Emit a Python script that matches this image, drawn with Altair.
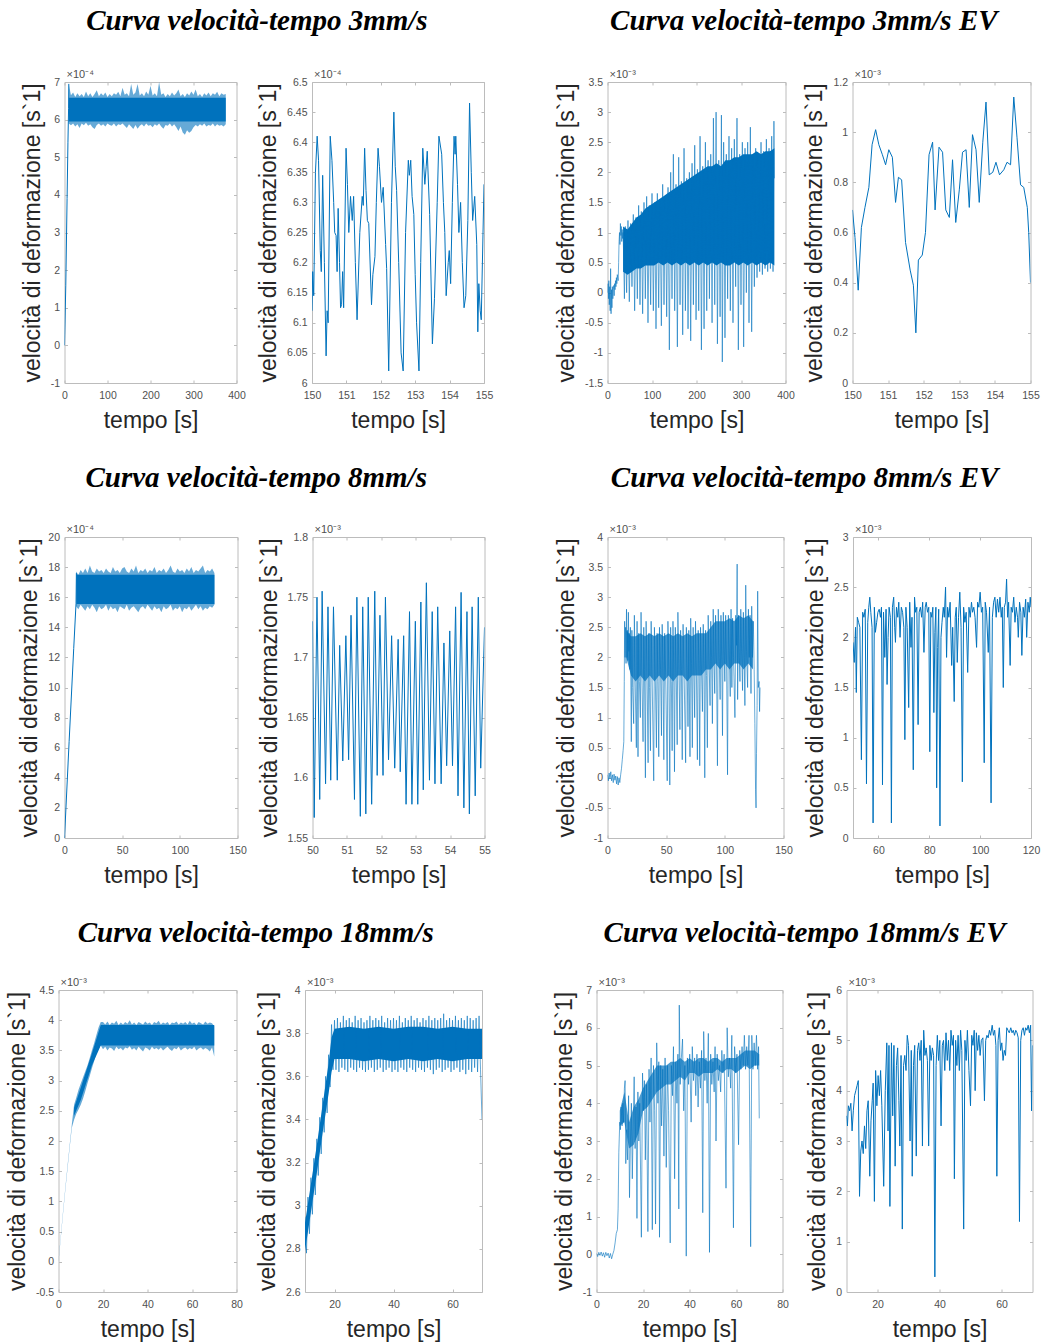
import altair as alt
import pandas as pd

# ---------------------------------------------------------------- styling
BLUE = "#0072BD"
FRAME = "#bcbcbc"
TICK_TEXT = "#505050"
TEXT = "#262626"
SANS = "Liberation Sans"
SERIF = "Liberation Serif"
Y_TITLE = "velocità di deformazione [s`1]"
X_TITLE = "tempo [s]"
EXP4 = "×10⁻⁴"
EXP3 = "×10⁻³"

# ---------------------------------------------------------------- 3 mm/s  (values x1e-4)
P1_RAMP = [(0, 0.0), (3, 1.6), (6, 3.9), (8, 5.4), (9.5, 6.3), (10, 6.95)]
P1_START, P1_STEP = 10, 5
P1_UPPER = [6.95, 6.65, 6.72, 6.6, 6.7, 6.62, 6.68, 6.6, 6.75, 6.62,
            6.7, 6.6, 6.68, 6.78, 6.62, 6.7, 6.64, 6.72, 6.6, 6.68,
            6.62, 6.7, 6.66, 6.74, 6.62, 6.85, 6.66, 6.7, 6.62, 6.95,
            6.66, 6.72, 6.95, 6.64, 6.7, 6.62, 6.75, 6.66, 6.9, 6.64,
            6.7, 6.62, 7.0, 6.66, 6.7, 6.6, 6.68, 6.62, 6.72, 6.64,
            6.7, 6.8, 6.62, 6.68, 6.6, 6.7, 6.64, 6.75, 6.66, 6.8,
            6.62, 6.68, 6.6, 6.7, 6.64, 6.72, 6.62, 6.7, 6.66, 6.74,
            6.62, 6.7, 6.66, 6.68]
P1_LOWER = [5.9, 5.85, 5.9, 5.82, 5.88, 5.78, 5.9, 5.85, 5.92, 5.84,
            5.88, 5.8, 5.75, 5.86, 5.9, 5.84, 5.88, 5.82, 5.9, 5.86,
            5.84, 5.9, 5.82, 5.88, 5.86, 5.9, 5.84, 5.78, 5.88, 5.82,
            5.75, 5.86, 5.76, 5.84, 5.88, 5.82, 5.9, 5.84, 5.86, 5.8,
            5.88, 5.84, 5.9, 5.82, 5.76, 5.86, 5.84, 5.9, 5.82, 5.88,
            5.8, 5.7, 5.82, 5.66, 5.6, 5.72, 5.65, 5.7, 5.8, 5.86,
            5.82, 5.88, 5.84, 5.9, 5.82, 5.86, 5.84, 5.9, 5.82, 5.88,
            5.84, 5.86, 5.82, 5.88]
P1_CORE = [(10, 5.95, 6.58), (375, 5.95, 6.58)]

P2_TRACE = [
    (150.00, 6.120), (150.02, 6.185), (150.05, 6.145), (150.10, 6.350), (150.15, 6.410),
    (150.19, 6.370), (150.24, 6.220), (150.27, 6.185), (150.31, 6.345), (150.36, 6.200),
    (150.41, 6.045), (150.44, 6.120), (150.47, 6.100), (150.53, 6.410), (150.58, 6.370),
    (150.63, 6.300), (150.66, 6.250), (150.70, 6.245), (150.73, 6.185), (150.76, 6.290),
    (150.80, 6.200), (150.83, 6.125), (150.86, 6.130), (150.89, 6.185), (150.92, 6.125),
    (150.99, 6.390), (151.03, 6.330), (151.07, 6.250), (151.12, 6.310), (151.17, 6.270),
    (151.21, 6.310), (151.26, 6.200), (151.31, 6.105), (151.39, 6.250), (151.46, 6.310),
    (151.49, 6.295), (151.53, 6.390), (151.57, 6.320), (151.61, 6.270), (151.65, 6.265),
    (151.73, 6.130), (151.77, 6.180), (151.83, 6.210), (151.87, 6.300), (151.92, 6.390),
    (151.96, 6.360), (152.02, 6.300), (152.07, 6.325), (152.14, 6.230), (152.17, 6.190),
    (152.23, 6.020), (152.31, 6.300), (152.38, 6.450), (152.42, 6.360), (152.46, 6.320),
    (152.52, 6.200), (152.59, 6.050), (152.65, 6.020), (152.72, 6.250), (152.80, 6.370),
    (152.83, 6.345), (152.87, 6.370), (152.91, 6.310), (152.96, 6.280), (153.00, 6.180),
    (153.04, 6.100), (153.11, 6.020), (153.16, 6.200), (153.22, 6.390), (153.28, 6.330),
    (153.32, 6.360), (153.35, 6.385), (153.42, 6.280), (153.50, 6.065), (153.56, 6.140),
    (153.64, 6.300), (153.69, 6.410), (153.77, 6.380), (153.82, 6.300), (153.86, 6.250),
    (153.90, 6.145), (153.96, 6.200), (153.99, 6.220), (154.03, 6.165), (154.08, 6.300),
    (154.13, 6.410), (154.16, 6.380), (154.18, 6.410), (154.23, 6.330), (154.27, 6.250),
    (154.32, 6.300), (154.37, 6.200), (154.42, 6.125), (154.47, 6.145), (154.53, 6.270),
    (154.58, 6.465), (154.63, 6.350), (154.67, 6.270), (154.73, 6.310), (154.79, 6.230),
    (154.82, 6.085), (154.85, 6.165), (154.89, 6.120), (154.92, 6.105), (155.00, 6.330),
]

# ---------------------------------------------------------------- 3 mm/s EV  (values x1e-3)
P3_TRACE = [
    (0, 0.0), (1, 0.15), (2, -0.1), (3, 0.2), (4, -0.2), (5, 0.1), (6, -0.3), (7, 0.4),
    (8, -0.35), (9, 0.05), (10, -0.25), (11, 0.1), (12, -0.1), (13, 0.05), (14, 0.12),
    (15, -0.05), (16, 0.15), (17, 0.05), (18, 0.2), (19, 0.1), (20, 0.25), (21, 0.15),
    (22, 0.3), (24, 0.2), (25, 0.5), (26, 0.85), (27, 1.0), (28, 0.8), (29, 1.15),
    (30, 0.95), (31, 1.1), (32, 0.85), (33, 1.05), (34, 0.9), (35, 1.0), (36, 0.7),
    (38, -0.1), (40, 1.1), (43, 0.0), (46, 1.2), (49, -0.15), (52, 1.15), (55, 0.1),
    (58, 1.3), (61, -0.3), (64, 1.25), (67, -0.1), (70, 1.45), (73, -0.2), (76, 1.35),
    (79, -0.35), (82, 1.5), (85, -0.1), (88, 1.6), (91, -0.5), (94, 1.45), (97, -0.2),
    (100, 1.65), (103, -0.3), (106, 1.5), (109, -0.6), (112, 1.65), (115, -0.25),
    (118, 1.55), (121, -0.55), (124, 1.8), (127, -0.2), (130, 1.6), (133, -0.4),
    (136, 1.75), (139, -0.95), (142, 2.0), (145, -0.1), (148, 2.3), (151, -0.3),
    (154, 1.8), (157, -0.9), (160, 2.25), (163, -0.2), (166, 1.85), (169, -0.7),
    (172, 2.4), (175, -0.3), (178, 1.9), (181, -0.6), (184, 2.0), (187, -0.8),
    (190, 2.15), (193, -0.2), (196, 2.45), (199, -0.45), (202, 2.05), (205, -0.3),
    (208, 2.6), (211, -0.95), (214, 2.1), (217, -0.6), (220, 2.5), (223, -0.3),
    (226, 2.2), (229, -0.1), (232, 2.3), (235, -0.5), (238, 2.9), (241, -0.2),
    (244, 3.0), (247, -0.85), (250, 2.2), (253, -0.4), (256, 2.95), (258, -1.15),
    (261, 2.5), (264, -0.75), (267, 2.3), (270, -0.1), (273, 2.6), (276, -0.3),
    (279, 2.4), (282, -0.5), (285, 2.55), (288, 0.1), (291, 2.9), (294, -0.95),
    (297, 2.3), (300, -0.2), (303, 2.5), (306, -0.9), (309, 2.4), (312, 0.0),
    (315, 2.5), (318, -0.5), (321, 2.75), (324, -0.65), (327, 2.3), (330, 0.1),
    (333, 2.4), (336, 0.25), (339, 2.3), (342, 0.35), (345, 2.5), (348, 0.3),
    (351, 2.35), (354, 0.4), (357, 2.55), (360, 0.35), (363, 2.4), (366, 0.4),
    (369, 2.6), (372, 0.35), (374, 2.85), (375, 1.9),
]
P3_START, P3_STEP = 35, 10
P3_UPPER = [1.1, 1.05, 1.15, 1.25, 1.3, 1.4, 1.45, 1.5, 1.55, 1.6,
            1.65, 1.7, 1.75, 1.8, 1.85, 1.9, 1.95, 2.0, 2.05, 2.1,
            2.1, 2.15, 2.1, 2.2, 2.2, 2.25, 2.25, 2.3, 2.3, 2.3,
            2.35, 2.3, 2.35, 2.35, 2.4]
P3_LOWER = [0.35, 0.3, 0.35, 0.4, 0.4, 0.45, 0.45, 0.45, 0.5, 0.45,
            0.5, 0.45, 0.5, 0.45, 0.5, 0.45, 0.5, 0.45, 0.5, 0.45,
            0.5, 0.45, 0.5, 0.45, 0.45, 0.5, 0.45, 0.5, 0.45, 0.5,
            0.45, 0.5, 0.45, 0.5, 0.45]

P4_TRACE = [
    (150.00, 0.69), (150.07, 0.58), (150.16, 0.37), (150.25, 0.62), (150.35, 0.70),
    (150.46, 0.78), (150.55, 0.95), (150.65, 1.01), (150.74, 0.95), (150.84, 0.91),
    (150.93, 0.87), (151.02, 0.93), (151.12, 0.90), (151.21, 0.72), (151.29, 0.82),
    (151.38, 0.81), (151.49, 0.56), (151.62, 0.45), (151.71, 0.39), (151.78, 0.20),
    (151.85, 0.49), (151.96, 0.51), (152.05, 0.60), (152.15, 0.91), (152.25, 0.96),
    (152.32, 0.69), (152.43, 0.94), (152.53, 0.92), (152.62, 0.69), (152.72, 0.66),
    (152.81, 0.89), (152.90, 0.64), (153.00, 0.77), (153.09, 0.92), (153.19, 0.93),
    (153.28, 0.70), (153.37, 0.99), (153.47, 0.93), (153.56, 0.72), (153.66, 0.96),
    (153.75, 1.12), (153.84, 0.83), (153.94, 0.84), (154.03, 0.88), (154.13, 0.83),
    (154.25, 0.85), (154.34, 0.88), (154.44, 0.87), (154.53, 1.14), (154.62, 0.98),
    (154.72, 0.79), (154.81, 0.78), (154.91, 0.70), (154.95, 0.60), (155.00, 0.40),
]

# ---------------------------------------------------------------- 8 mm/s  (P5 x1e-4, P6 x1e-3)
P5_RAMP = [(0, 0.0), (4, 6.4), (8, 12.6), (10, 15.6), (10.3, 17.6)]
P5_START, P5_STEP = 10, 2
P5_UPPER = [17.7, 17.5, 17.8, 17.6, 17.9, 17.6, 18.1, 17.7, 17.6, 17.9,
            17.7, 17.8, 17.6, 17.9, 17.7, 17.6, 18.0, 17.7, 17.8, 17.6,
            17.9, 18.0, 17.7, 17.6, 17.9, 17.7, 18.1, 17.6, 17.8, 17.7,
            17.9, 17.6, 17.8, 17.7, 18.0, 17.6, 17.8, 17.7, 17.9, 17.6,
            17.8, 18.1, 17.7, 17.6, 17.9, 17.7, 17.8, 17.6, 17.9, 17.7,
            18.0, 17.6, 17.8, 17.7, 17.9, 18.1, 17.6, 17.8, 17.7, 17.9,
            17.6]
P5_LOWER = [15.4, 15.2, 15.5, 15.3, 15.1, 15.4, 15.2, 15.5, 15.3, 15.0,
            15.4, 15.2, 15.3, 15.5, 15.1, 15.4, 15.2, 15.3, 15.0, 15.4,
            15.3, 15.2, 15.5, 15.1, 15.3, 15.4, 15.2, 15.0, 15.3, 15.4,
            15.2, 15.5, 15.3, 15.1, 15.4, 15.2, 15.3, 15.0, 15.4, 15.2,
            15.3, 15.5, 15.1, 15.3, 15.2, 15.4, 15.0, 15.3, 15.2, 15.4,
            15.1, 15.3, 15.5, 15.2, 15.4, 15.1, 15.3, 15.2, 15.4, 15.3,
            15.5]
P5_CORE = [(10.3, 15.55, 17.5), (130, 15.55, 17.5)]

P6_TRACE = [
    (50.00, 1.730), (50.05, 1.567), (50.13, 1.750), (50.21, 1.582), (50.28, 1.755),
    (50.38, 1.595), (50.45, 1.742), (50.53, 1.598), (50.61, 1.742), (50.72, 1.598),
    (50.79, 1.710), (50.88, 1.614), (50.97, 1.718), (51.05, 1.615), (51.12, 1.735),
    (51.22, 1.582), (51.29, 1.750), (51.39, 1.568), (51.46, 1.742), (51.55, 1.570),
    (51.62, 1.750), (51.72, 1.578), (51.81, 1.755), (51.88, 1.602), (51.96, 1.735),
    (52.05, 1.602), (52.12, 1.750), (52.21, 1.615), (52.30, 1.718), (52.39, 1.608),
    (52.49, 1.715), (52.55, 1.605), (52.65, 1.718), (52.72, 1.578), (52.82, 1.738),
    (52.89, 1.578), (52.99, 1.730), (53.06, 1.578), (53.15, 1.746), (53.22, 1.590),
    (53.31, 1.762), (53.40, 1.598), (53.48, 1.738), (53.56, 1.595), (53.64, 1.742),
    (53.74, 1.595), (53.82, 1.712), (53.90, 1.610), (53.99, 1.722), (54.07, 1.610),
    (54.16, 1.742), (54.23, 1.585), (54.32, 1.754), (54.40, 1.575), (54.49, 1.738),
    (54.56, 1.570), (54.64, 1.742), (54.73, 1.585), (54.82, 1.750), (54.89, 1.608),
    (55.00, 1.725),
]

# ---------------------------------------------------------------- 8 mm/s EV  (values x1e-3)
P7_TRACE = [
    (0.0, 0.05), (0.7, -0.05), (1.4, 0.08), (2.1, -0.02), (2.8, 0.1), (3.5, -0.05),
    (4.2, 0.05), (4.9, -0.08), (5.6, 0.06), (6.3, -0.04), (7.0, 0.03), (7.7, -0.1),
    (8.4, 0.02), (9.1, -0.12), (9.8, 0.0), (10.5, -0.08), (11.2, 0.05), (11.9, 0.15),
    (12.6, 0.3), (13.3, 0.45), (13.9, 0.6), (14.3, 1.6), (14.6, 2.6), (15.0, 2.0),
    (15.4, 2.5), (15.8, 1.9), (16.2, 2.8), (16.6, 2.0), (17.0, 2.45), (17.4, 1.95),
    (17.8, 2.75), (18.2, 2.1), (18.6, 2.4), (19.0, 1.8), (19.5, 2.5), (20.3, 0.6),
    (20.8, 2.45), (21.4, 1.5), (22.3, 0.9), (22.9, 2.7), (23.5, 1.7), (24.6, 0.5),
    (25.2, 2.6), (26.0, 0.35), (26.6, 2.4), (27.2, 1.6), (28.0, 1.0), (28.6, 2.75),
    (29.3, 1.7), (30.3, 0.6), (30.9, 2.5), (31.5, 1.8), (32.3, 0.0), (32.9, 2.6),
    (33.6, 1.9), (34.6, 0.25), (35.2, 2.4), (35.8, 1.5), (36.6, 0.45), (37.2, 2.6),
    (37.9, 1.8), (39.4, -0.05), (40.0, 2.5), (40.7, 1.7), (41.7, 0.5), (42.3, 2.4),
    (43.0, 1.6), (43.7, 0.35), (44.3, 2.5), (45.2, 1.8), (46.0, 0.7), (46.6, 2.55),
    (47.3, 1.9), (48.0, 0.3), (48.7, 2.4), (49.6, 1.7), (50.9, -0.05), (51.5, 2.6),
    (52.3, 1.8), (53.1, -0.12), (53.8, 2.5), (54.4, 1.6), (55.1, 0.45), (55.8, 2.6),
    (56.4, 1.9), (57.1, 0.1), (57.8, 2.5), (58.6, 1.7), (59.4, 0.55), (60.0, 2.75),
    (60.8, 1.9), (61.7, 0.8), (62.3, 2.45), (63.0, 1.8), (63.7, 0.3), (64.4, 2.55),
    (65.3, 1.7), (66.6, 0.25), (67.2, 2.5), (67.9, 1.8), (68.6, 0.85), (69.3, 2.45),
    (70.3, 0.35), (70.9, 2.65), (71.6, 1.9), (72.3, 0.5), (73.0, 2.5), (73.6, 1.8),
    (74.3, 1.0), (75.0, 2.6), (75.8, 1.7), (76.6, 0.3), (77.3, 2.45), (78.0, 1.9),
    (78.6, 0.2), (79.3, 2.5), (80.1, 1.8), (80.9, 1.1), (81.6, 2.55), (82.3, 1.8),
    (82.9, 0.0), (83.6, 2.45), (84.4, 1.7), (85.1, 0.5), (85.8, 2.7), (86.6, 1.9),
    (87.4, 1.2), (88.0, 2.6), (88.7, 2.0), (89.4, 0.9), (90.1, 2.8), (90.7, 2.0),
    (91.4, 1.4), (92.1, 2.7), (92.9, 1.9), (93.7, 0.2), (94.4, 2.8), (95.2, 2.0),
    (96.0, 1.3), (96.7, 2.7), (97.4, 1.9), (98.0, 0.7), (98.7, 2.75), (99.4, 2.1),
    (100.0, 1.6), (100.7, 2.7), (101.5, 1.9), (102.3, 0.05), (103.0, 2.7), (103.8, 2.1),
    (104.6, 1.35), (105.3, 2.8), (106.0, 1.5), (106.6, 2.65), (107.4, 2.0), (108.6, 1.0),
    (109.3, 2.7), (110.0, 2.2), (110.5, 3.55), (110.9, 1.3), (111.6, 2.7), (112.3, 2.0),
    (112.9, 1.6), (113.6, 2.8), (114.3, 2.1), (115.1, 1.45), (115.8, 2.75), (116.5, 2.0),
    (117.1, 1.2), (117.8, 3.2), (118.5, 2.1), (119.4, 1.5), (120.1, 2.8), (120.8, 2.0),
    (121.5, 2.7), (122.3, 1.4), (122.9, 2.85), (123.6, 2.0), (124.3, 2.6), (125.0, 1.8),
    (125.6, 0.9), (126.2, -0.2), (126.6, -0.5), (127.0, 0.4), (127.5, 1.2), (128.0, 3.1),
    (128.5, 1.5), (129.2, 1.6), (129.6, 1.1), (130.0, 1.5),
]
P7_START, P7_STEP = 16, 4
P7_UPPER = [2.45, 2.35, 2.35, 2.4, 2.35, 2.4, 2.35, 2.4, 2.35, 2.4,
            2.35, 2.4, 2.35, 2.4, 2.35, 2.4, 2.4, 2.4, 2.5, 2.6,
            2.6, 2.6, 2.65, 2.6, 2.7, 2.65, 2.7, 2.6]
P7_LOWER = [2.0, 1.7, 1.6, 1.7, 1.6, 1.7, 1.6, 1.7, 1.6, 1.7,
            1.6, 1.7, 1.7, 1.6, 1.7, 1.7, 1.7, 1.8, 1.8, 1.9,
            1.8, 1.9, 1.8, 1.9, 1.9, 1.8, 1.9, 1.8]

P8_TRACE = [
    (50.0, 1.95), (50.5, 1.75), (51.0, 2.1), (51.3, 1.45), (51.7, 2.2), (52.2, 2.15),
    (52.7, 2.1), (53.3, 0.78), (53.8, 2.25), (54.3, 2.2), (54.8, 2.28), (55.3, 0.54),
    (55.8, 2.15), (56.2, 2.3), (56.6, 2.4), (57.0, 2.25), (57.5, 2.1), (57.9, 0.15),
    (58.4, 2.3), (58.8, 2.05), (59.3, 2.15), (59.8, 2.25), (60.3, 2.28), (60.8, 2.2),
    (61.2, 2.3), (61.6, 0.53), (62.0, 2.25), (62.5, 1.8), (63.0, 2.28), (63.4, 1.53),
    (63.8, 2.0), (64.2, 2.3), (64.7, 2.2), (65.1, 0.15), (65.5, 2.3), (66.0, 2.4),
    (66.4, 2.1), (66.7, 1.95), (67.1, 2.3), (67.6, 2.2), (68.0, 2.35), (68.5, 2.0),
    (69.0, 2.3), (69.5, 2.25), (70.0, 2.1), (70.4, 0.98), (70.8, 2.3), (71.3, 2.1),
    (71.9, 1.3), (72.3, 2.35), (72.8, 1.9), (73.2, 2.2), (73.7, 0.68), (74.2, 2.4),
    (74.6, 2.25), (75.1, 2.3), (75.6, 1.13), (76.0, 2.25), (76.5, 2.3), (77.0, 2.2),
    (77.4, 2.35), (77.9, 1.85), (78.4, 2.3), (78.8, 2.35), (79.3, 2.25), (79.8, 2.3),
    (80.2, 0.86), (80.6, 2.25), (81.0, 2.2), (81.4, 2.3), (81.8, 1.25), (82.2, 2.05),
    (82.6, 2.3), (82.9, 0.5), (83.3, 1.9), (83.7, 2.28), (84.2, 0.12), (84.6, 2.0),
    (85.0, 2.15), (85.5, 2.3), (85.9, 2.2), (86.4, 2.5), (86.8, 1.8), (87.2, 2.3),
    (87.7, 2.2), (88.2, 2.35), (88.8, 1.72), (89.2, 2.1), (89.8, 1.36), (90.2, 2.2),
    (90.6, 2.3), (91.0, 1.75), (91.5, 2.2), (92.0, 2.45), (92.5, 2.1), (93.0, 0.56),
    (93.5, 2.3), (94.0, 2.15), (94.5, 2.25), (95.1, 1.65), (95.6, 2.3), (96.1, 2.2),
    (96.6, 2.35), (97.0, 2.25), (97.5, 2.3), (98.0, 2.2), (98.6, 1.9), (99.0, 2.35),
    (99.5, 2.3), (100.0, 2.45), (100.5, 2.25), (101.0, 2.3), (101.6, 0.75), (102.0, 2.35),
    (102.5, 2.25), (103.2, 1.85), (103.7, 2.3), (104.3, 0.35), (104.8, 2.2), (105.3, 2.35),
    (105.8, 2.4), (106.3, 2.2), (106.8, 2.38), (107.3, 2.25), (107.8, 2.4), (108.3, 2.2),
    (108.7, 2.3), (109.1, 1.5), (109.5, 2.3), (110.0, 2.35), (110.4, 2.58), (110.8, 2.2),
    (111.2, 2.35), (111.8, 1.72), (112.2, 2.3), (112.7, 2.25), (113.2, 2.4), (113.7, 2.15),
    (114.2, 2.3), (114.7, 2.2), (115.0, 2.0), (115.5, 2.35), (116.0, 2.25), (116.4, 1.82),
    (116.9, 2.3), (117.4, 2.2), (117.9, 2.38), (118.3, 2.0), (118.8, 2.35), (119.3, 2.25),
    (119.7, 2.4), (120.0, 2.3),
]

# ---------------------------------------------------------------- 18 mm/s  (values x1e-3)
P9_START, P9_STEP = 0, 1
P9_UPPER = [0.02, 0.42, 0.82, 1.2, 1.57, 1.93, 2.28, 2.6, 2.72, 2.85,
            2.95, 3.05, 3.15, 3.25, 3.37, 3.5, 3.62, 3.75, 3.88, 3.97,
            3.97, 3.93, 3.98, 3.92, 3.96, 3.94, 3.99, 3.92, 3.96, 3.93,
            3.97, 3.94, 4.0, 3.93, 3.96, 3.92, 3.97, 3.95, 3.93, 3.98,
            3.94, 3.96, 3.92, 3.97, 3.95, 3.99, 3.93, 3.96, 3.94, 3.97,
            3.92, 3.96, 3.95, 3.98, 3.93, 3.96, 3.94, 3.97, 3.93, 3.99,
            3.94, 3.96, 3.92, 3.97, 3.95, 3.93, 3.98, 3.94, 3.96, 3.95,
            3.9]
P9_LOWER = [0.0, 0.38, 0.78, 1.16, 1.52, 1.88, 2.22, 2.35, 2.45, 2.52,
            2.6, 2.7, 2.82, 2.95, 3.07, 3.2, 3.32, 3.45, 3.55, 3.58,
            3.52, 3.56, 3.5, 3.55, 3.53, 3.49, 3.56, 3.52, 3.54, 3.5,
            3.55, 3.53, 3.57, 3.51, 3.54, 3.5, 3.56, 3.52, 3.48, 3.55,
            3.53, 3.5, 3.56, 3.52, 3.54, 3.51, 3.55, 3.5, 3.53, 3.56,
            3.52, 3.49, 3.54, 3.52, 3.56, 3.5, 3.53, 3.55, 3.51, 3.54,
            3.52, 3.56, 3.5, 3.53, 3.55, 3.51, 3.54, 3.52, 3.48, 3.55,
            3.4]
P9_CORE = [(7, 2.42, 2.55), (10, 2.68, 2.88), (15, 3.25, 3.45), (19, 3.58, 3.92),
           (20, 3.58, 3.92), (70, 3.58, 3.92)]

P10_CORE = [(10, 2.79, 2.92), (12, 2.97, 3.1), (14, 3.15, 3.28), (16, 3.34, 3.47),
            (18, 3.52, 3.66), (19, 3.62, 3.78), (20, 3.68, 3.82), (25, 3.68, 3.83),
            (30, 3.67, 3.82), (35, 3.68, 3.83), (40, 3.67, 3.82), (45, 3.68, 3.83),
            (50, 3.67, 3.83), (55, 3.68, 3.82), (60, 3.67, 3.83), (65, 3.68, 3.82),
            (70, 3.68, 3.82)]
P10_START, P10_STEP = 10, 0.5
P10_SPIKES = [2.95, 2.78, 3.04, 2.87, 3.13, 2.96, 3.22, 3.05, 3.31, 3.14,
              3.41, 3.24, 3.50, 3.34, 3.60, 3.43, 3.70, 3.55, 3.84, 3.63,
              3.86, 3.63, 3.87, 3.62, 3.85, 3.64, 3.88, 3.63, 3.86, 3.62,
              3.87, 3.64, 3.85, 3.63, 3.88, 3.62, 3.86, 3.64, 3.87, 3.63,
              3.85, 3.62, 3.86, 3.63, 3.88, 3.64, 3.86, 3.62, 3.87, 3.63,
              3.86, 3.64, 3.88, 3.62, 3.85, 3.63, 3.87, 3.64, 3.86, 3.62,
              3.87, 3.63, 3.86, 3.62, 3.88, 3.64, 3.85, 3.63, 3.87, 3.62,
              3.86, 3.64, 3.88, 3.63, 3.86, 3.62, 3.87, 3.64, 3.85, 3.63,
              3.87, 3.62, 3.86, 3.64, 3.88, 3.63, 3.86, 3.61, 3.87, 3.63,
              3.86, 3.64, 3.87, 3.62, 3.89, 3.63, 3.86, 3.64, 3.87, 3.62,
              3.86, 3.63, 3.88, 3.64, 3.86, 3.62, 3.87, 3.63, 3.86, 3.61,
              3.88, 3.63, 3.87, 3.62, 3.86, 3.64, 3.87, 3.62, 3.88, 3.63,
              3.40]

# ---------------------------------------------------------------- 18 mm/s EV  (values x1e-3)
P11_TRACE = [
    (0.0, 0.02), (0.5, -0.06), (1.0, 0.05), (1.5, -0.03), (2.0, 0.06), (2.5, -0.05),
    (3.0, 0.04), (3.5, -0.08), (4.0, 0.05), (4.5, -0.04), (5.0, 0.03), (5.5, -0.1),
    (6.0, 0.02), (6.5, -0.12), (7.0, 0.0), (7.5, 0.1), (8.0, 0.3), (8.5, 0.55),
    (9.0, 0.65), (9.3, 1.2), (9.6, 2.7), (10.0, 3.5), (10.3, 3.3), (10.6, 3.9),
    (11.0, 3.4), (11.3, 4.0), (11.6, 3.5), (12.0, 4.4), (12.3, 4.6), (12.6, 2.4),
    (13.0, 3.3), (13.4, 2.5), (13.8, 4.2), (14.2, 1.5), (14.6, 3.0), (15.0, 4.0),
    (15.4, 2.0), (15.8, 3.5), (16.2, 4.7), (16.6, 2.8), (17.0, 3.9), (17.4, 0.95),
    (17.8, 4.3), (18.2, 3.0), (18.6, 4.0), (19.3, 0.45), (19.8, 4.8), (20.2, 3.8),
    (20.6, 4.6), (21.0, 2.5), (21.5, 4.5), (22.1, 0.6), (22.6, 4.9), (23.0, 3.5),
    (23.5, 5.2), (24.0, 0.65), (24.5, 5.0), (25.0, 3.8), (25.4, 0.8), (25.9, 5.6),
    (26.4, 4.0), (26.8, 5.1), (27.1, 0.45), (27.6, 5.0), (28.0, 3.4), (28.5, 4.9),
    (29.0, 2.6), (29.5, 5.2), (30.0, 2.3), (30.5, 5.0), (31.0, 3.8), (31.7, 0.3),
    (32.2, 5.0), (32.7, 4.2), (33.1, 5.5), (33.6, 2.0), (34.1, 5.1), (34.6, 4.0),
    (35.0, 5.3), (35.4, 1.2), (35.6, 6.6), (36.0, 4.5), (36.5, 5.2), (37.0, 5.7),
    (37.5, 3.8), (38.0, 5.0), (38.6, -0.05), (39.1, 5.2), (39.6, 4.5), (40.1, 5.3),
    (40.7, 3.5), (41.2, 5.5), (41.7, 4.6), (42.2, 5.2), (42.7, 4.2), (43.2, 5.3),
    (43.7, 3.9), (44.2, 5.1), (44.7, 4.4), (45.2, 5.4), (45.7, 1.1), (46.1, 5.9),
    (46.6, 4.6), (47.1, 5.2), (47.6, 4.0), (48.1, 5.85), (48.6, 0.05), (49.1, 5.3),
    (49.6, 4.5), (50.1, 5.1), (50.6, 4.3), (51.0, 5.5), (51.4, 3.0), (51.9, 5.3),
    (52.4, 4.6), (52.9, 5.0), (53.4, 4.3), (53.9, 5.4), (54.4, 4.8), (54.9, 5.3),
    (55.7, 1.75), (56.2, 6.0), (56.7, 4.7), (57.2, 5.2), (57.7, 4.4), (58.2, 5.8),
    (58.9, 0.7), (59.4, 5.5), (59.9, 4.8), (60.4, 5.3), (61.1, 2.9), (61.6, 5.4),
    (62.1, 4.9), (62.6, 5.5), (63.1, 5.0), (63.6, 5.8), (64.1, 4.9), (64.6, 5.5),
    (65.1, 5.0), (65.6, 5.8), (66.3, 0.2), (66.8, 5.8), (67.3, 4.9), (67.8, 5.6),
    (68.3, 5.0), (68.8, 5.8), (69.3, 4.9), (69.7, 5.5), (70.0, 3.6),
]
P11_START, P11_STEP = 10, 2
P11_UPPER = [3.8, 4.3, 3.5, 3.9, 4.1, 4.4, 4.6, 4.8, 5.0, 5.0,
             5.0, 5.1, 5.1, 5.2, 5.1, 5.2, 5.1, 5.2, 5.2, 5.1,
             5.2, 5.2, 5.1, 5.2, 5.2, 5.2, 5.3, 5.4, 5.4, 5.4,
             5.3]
P11_LOWER = [3.4, 3.5, 2.8, 2.9, 3.2, 3.8, 3.9, 4.1, 4.3, 4.4,
             4.5, 4.5, 4.6, 4.7, 4.6, 4.8, 4.8, 4.7, 4.8, 4.8,
             4.8, 4.9, 4.8, 4.9, 4.9, 4.8, 4.9, 5.0, 4.9, 5.0,
             5.0]

P12_TRACE = [
    (10.0, 3.5), (10.3, 3.3), (10.6, 3.7), (11.0, 3.6), (11.4, 3.75), (11.8, 3.2),
    (12.2, 3.6), (12.6, 3.9), (13.0, 4.0), (13.4, 4.1), (13.8, 4.2), (14.2, 1.9),
    (14.6, 2.8), (15.0, 3.0), (15.4, 2.75), (15.8, 3.3), (16.2, 2.85), (16.6, 3.6),
    (17.0, 3.8), (17.5, 2.3), (17.9, 3.4), (18.3, 3.8), (18.6, 4.15), (19.0, 1.8),
    (19.4, 4.4), (19.8, 3.7), (20.2, 4.3), (20.6, 3.9), (21.0, 4.4), (21.4, 3.7),
    (22.0, 2.1), (22.5, 4.0), (23.0, 4.95), (23.4, 3.2), (23.7, 4.9), (24.0, 1.7),
    (24.5, 4.95), (24.9, 3.5), (25.3, 4.9), (25.7, 2.5), (26.1, 4.5), (26.5, 4.85),
    (26.9, 3.8), (27.2, 2.9), (27.6, 4.7), (28.0, 1.25), (28.4, 4.5), (28.8, 4.7),
    (29.2, 4.4), (29.6, 5.1), (30.0, 4.9), (30.5, 3.0), (30.9, 4.8), (31.2, 2.3),
    (31.6, 4.5), (32.0, 4.9), (32.5, 2.7), (32.9, 4.8), (33.3, 4.95), (33.7, 4.6),
    (34.1, 5.0), (34.5, 2.9), (34.9, 5.2), (35.3, 4.7), (35.7, 4.85), (36.1, 4.6),
    (36.5, 2.9), (36.9, 4.9), (37.3, 4.6), (37.7, 4.85), (38.1, 4.7), (38.5, 0.3),
    (38.9, 4.5), (39.3, 5.1), (39.7, 4.6), (40.1, 5.0), (40.5, 3.3), (40.9, 4.9),
    (41.3, 5.0), (41.7, 4.4), (42.1, 5.15), (42.5, 4.6), (42.9, 5.0), (43.3, 4.4),
    (43.7, 5.2), (44.1, 4.9), (44.5, 5.1), (44.8, 2.25), (45.2, 5.0), (45.6, 4.5),
    (46.0, 5.1), (46.4, 4.4), (46.8, 5.2), (47.2, 4.8), (47.8, 1.25), (48.2, 5.0),
    (48.6, 4.6), (49.0, 5.2), (49.5, 4.4), (50.0, 3.7), (50.4, 5.1), (50.8, 4.9),
    (51.2, 5.2), (51.5, 4.0), (51.9, 5.15), (52.3, 4.8), (52.7, 5.1), (53.1, 4.7),
    (53.5, 5.0), (54.0, 5.05), (54.5, 3.8), (54.9, 5.0), (55.3, 5.1), (55.7, 5.05),
    (56.1, 5.2), (56.5, 5.1), (57.0, 5.3), (57.4, 5.1), (57.8, 5.2), (58.2, 4.9),
    (58.5, 2.3), (58.9, 5.0), (59.3, 5.25), (59.7, 4.8), (60.1, 4.95), (60.5, 4.6),
    (60.9, 4.8), (61.3, 4.7), (61.7, 5.25), (62.1, 5.2), (62.5, 5.15), (63.0, 5.25),
    (63.4, 5.15), (63.8, 5.2), (64.2, 5.1), (64.6, 5.2), (65.0, 5.15), (65.4, 5.05),
    (65.8, 1.4), (66.2, 5.0), (66.6, 5.2), (67.0, 5.25), (67.4, 5.1), (67.8, 5.25),
    (68.2, 5.2), (68.6, 5.3), (69.0, 5.15), (69.4, 5.3), (69.7, 3.6), (70.0, 4.9),
]


# ---------------------------------------------------------------- helpers
def grid(start, step, count):
    return [round(start + i * step, 3) for i in range(count)]


def trace(pairs):
    return pd.DataFrame(pairs, columns=["t", "v"])


def series(start, step, values):
    return pd.DataFrame({"t": grid(start, step, len(values)), "v": values})


def band(start, step, lower, upper):
    return pd.DataFrame({"t": grid(start, step, len(lower)), "lo": lower, "hi": upper})


def core(rows):
    return pd.DataFrame(rows, columns=["t", "lo", "hi"])


MINUS_FIX = "replace(datum.label, '\u2212', '-')"


def label_axis(orient, values, title):
    vertical = orient == "left"
    return alt.Axis(
        orient=orient, values=values, format=".3~f", labelExpr=MINUS_FIX, title=title,
        ticks=False, tickSize=0, domain=False, grid=False,
        labelFont=SANS, labelFontSize=10.5, labelColor=TICK_TEXT,
        labelPadding=5 if vertical else 7, labelFlush=False, labelOverlap=False,
        titleFont=SANS, titleFontSize=23, titleFontWeight="normal", titleColor=TEXT,
        titlePadding=6 if vertical else 8.5,
    )


def tick_axis(orient, values, reach=0):
    if reach:
        # blank title that only widens the left margin of the row
        extra = dict(title=".", titleColor="#ffffff", titleFontSize=4, titlePadding=reach - 4)
    else:
        extra = dict(title=None)
    return alt.Axis(orient=orient, values=values, labels=False, domain=False, grid=False,
                    ticks=True, tickSize=3, tickWidth=1, tickColor=FRAME, offset=-3, **extra)


LINE = dict(strokeWidth=1.0)
SPIKE = dict(strokeWidth=0.6)
FRINGE = dict(opacity=0.6)
SOLID = dict(opacity=1.0)


def panel(xdom, ydom, xticks, yticks, width, height, exponent, parts, reach=0):
    xs = alt.Scale(domain=xdom, nice=False, zero=False)
    ys = alt.Scale(domain=ydom, nice=False, zero=False)
    layers = []
    for i, (kind, df, style) in enumerate(parts):
        xa = label_axis("bottom", xticks, X_TITLE) if i == 0 else None
        ya = label_axis("left", yticks, Y_TITLE) if i == 0 else None
        x = alt.X("t:Q", scale=xs, axis=xa)
        if kind == "area":
            layer = alt.Chart(df).mark_area(color=BLUE, clip=True, **style).encode(
                x=x, y=alt.Y("lo:Q", scale=ys, axis=ya), y2="hi:Q")
        else:
            layer = alt.Chart(df).mark_line(color=BLUE, clip=True, **style).encode(
                x=x, y=alt.Y("v:Q", scale=ys, axis=ya))
        layers.append(layer)
    anchor = pd.DataFrame({"t": [xdom[0]], "v": [ydom[0]]})
    for xo, yo in (("bottom", "left"), ("top", "right")):
        layers.append(alt.Chart(anchor).mark_point(opacity=0).encode(
            x=alt.X("t:Q", scale=xs, axis=tick_axis(xo, xticks)),
            y=alt.Y("v:Q", scale=ys, axis=tick_axis(yo, yticks, reach if yo == "left" else 0)),
        ))
    return alt.layer(*layers).resolve_axis(x="independent", y="independent").properties(
        width=width, height=height,
        title=alt.Title(exponent, anchor="start", frame="group", font=SANS, fontSize=11,
                        fontWeight="normal", color=TICK_TEXT, offset=-3, dx=2),
    )


def group(text, left, right, gap, offset, dx=0):
    return alt.hconcat(left, right, spacing=gap).properties(
        title=alt.Title(text, font=SERIF, fontSize=29, fontStyle="italic", fontWeight="bold",
                        color="#000000", anchor="middle", offset=offset, dx=dx))


def row(first, second, gap):
    # an empty 1-px lead cell lets each row keep its own left margin
    lead = alt.Chart(pd.DataFrame({"t": []})).mark_point(opacity=0).encode(
        x=alt.value(0), y=alt.value(0)
    ).properties(width=1, height=1, view=alt.ViewBackground(stroke="transparent"))
    return alt.hconcat(lead, alt.hconcat(first, second, spacing=gap), spacing=0)


def ticks(a, b, step):
    return grid(a, step, int(round((b - a) / step)) + 1)


# ---------------------------------------------------------------- panels
p1 = panel([0, 400], [-1, 7], ticks(0, 400, 100), ticks(-1, 7, 1), 172, 301, EXP4, [
    ("area", band(P1_START, P1_STEP, P1_LOWER, P1_UPPER), FRINGE),
    ("area", core(P1_CORE), SOLID),
    ("line", trace(P1_RAMP), LINE),
], reach=65)
p2 = panel([150, 155], [6, 6.5], ticks(150, 155, 1), ticks(6, 6.5, 0.05), 172, 301, EXP4, [
    ("line", trace(P2_TRACE), LINE),
])
p3 = panel([0, 400], [-1.5, 3.5], ticks(0, 400, 100), ticks(-1.5, 3.5, 0.5), 178, 301, EXP3, [
    ("area", band(P3_START, P3_STEP, P3_LOWER, P3_UPPER), SOLID),
    ("line", trace(P3_TRACE), SPIKE),
])
p4 = panel([150, 155], [0, 1.2], ticks(150, 155, 1), ticks(0, 1.2, 0.2), 178, 301, EXP3, [
    ("line", trace(P4_TRACE), LINE),
])
p5 = panel([0, 150], [0, 20], ticks(0, 150, 50), ticks(0, 20, 2), 173, 301, EXP4, [
    ("area", band(P5_START, P5_STEP, P5_LOWER, P5_UPPER), FRINGE),
    ("area", core(P5_CORE), SOLID),
    ("line", trace(P5_RAMP), LINE),
], reach=65)
p6 = panel([50, 55], [1.55, 1.8], ticks(50, 55, 1), ticks(1.55, 1.8, 0.05), 172, 301, EXP3, [
    ("line", trace(P6_TRACE), LINE),
])
p7 = panel([0, 150], [-1, 4], ticks(0, 150, 50), ticks(-1, 4, 0.5), 176, 301, EXP3, [
    ("area", band(P7_START, P7_STEP, P7_LOWER, P7_UPPER), dict(opacity=0.75)),
    ("line", trace(P7_TRACE), SPIKE),
])
p8 = panel([50, 120], [0, 3], [60, 80, 100, 120], ticks(0, 3, 0.5), 178, 301, EXP3, [
    ("line", trace(P8_TRACE), LINE),
])
p9 = panel([0, 80], [-0.5, 4.5], ticks(0, 80, 20), ticks(-0.5, 4.5, 0.5), 178, 302, EXP3, [
    ("area", band(P9_START, P9_STEP, P9_LOWER, P9_UPPER), FRINGE),
    ("area", core(P9_CORE), SOLID),
], reach=59)
p10 = panel([10, 70], [2.6, 4], [20, 40, 60], ticks(2.6, 4, 0.2), 177, 302, EXP3, [
    ("area", core(P10_CORE), SOLID),
    ("line", series(P10_START, P10_STEP, P10_SPIKES), SPIKE),
])
p11 = panel([0, 80], [-1, 7], ticks(0, 80, 20), ticks(-1, 7, 1), 186, 302, EXP3, [
    ("area", band(P11_START, P11_STEP, P11_LOWER, P11_UPPER), dict(opacity=0.7)),
    ("line", trace(P11_TRACE), SPIKE),
])
p12 = panel([10, 70], [0, 6], [20, 40, 60], ticks(0, 6, 1), 186, 302, EXP3, [
    ("line", trace(P12_TRACE), LINE),
])

row1 = row(
    group("Curva velocità-tempo 3mm/s", p1, p2, 10.5, 32.5, dx=11),
    group("Curva velocità-tempo 3mm/s EV", p3, p4, 7, 32.5, dx=6.5),
    61,
)
row2 = row(
    group("Curva velocità-tempo 8mm/s", p5, p6, 10, 31, dx=11.5),
    group("Curva velocità-tempo 8mm/s EV", p7, p8, 9.5, 31, dx=7),
    63,
)
row3 = row(
    group("Curva velocità-tempo 18mm/s", p9, p10, 11.5, 29, dx=15),
    group("Curva velocità-tempo 18mm/s EV", p11, p12, 16, 29, dx=11.5),
    69,
)

chart = alt.vconcat(row1, row2, row3, spacing=30).properties(
    padding={"left": -4.5, "top": 7, "right": 0, "bottom": 0},
    background="#ffffff",
).configure_view(stroke=FRAME, strokeWidth=1)

chart.save("out.html", embed_options={"renderer": "svg", "actions": False})
